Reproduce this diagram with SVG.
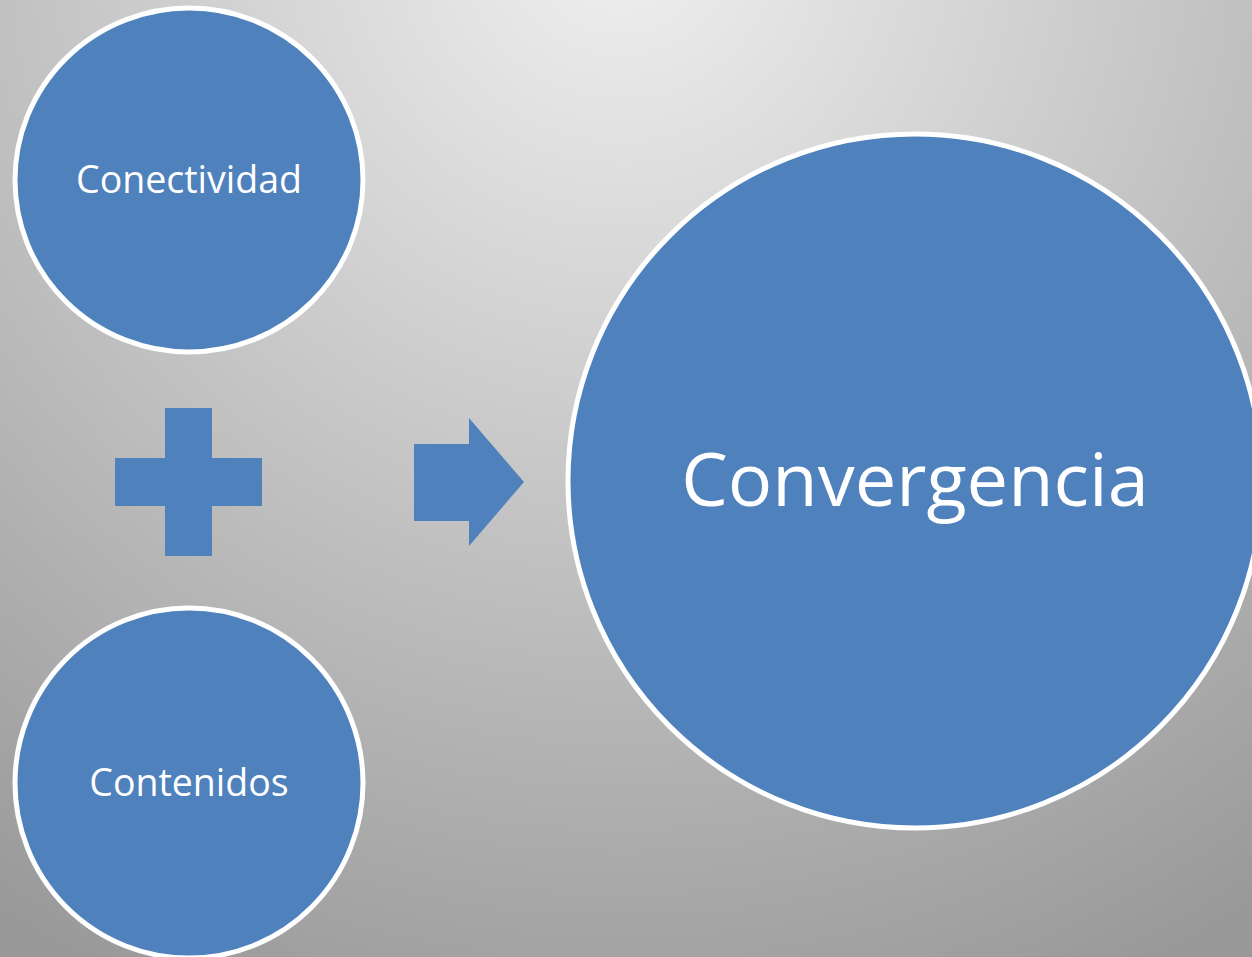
<svg xmlns="http://www.w3.org/2000/svg" width="1252" height="957" viewBox="0 0 1252 957">
<defs>
<radialGradient id="bg" gradientUnits="userSpaceOnUse" cx="620" cy="-60" r="1150">
<stop offset="0" stop-color="#f0f0f0"/>
<stop offset="1" stop-color="#999999"/>
</radialGradient>
<style>
.node{fill:#4f81bd;stroke:#ffffff;stroke-width:5}
.shape{fill:#4f81bd}
.lbl{font-family:"Open Sans","Noto Sans","Liberation Sans",sans-serif;fill:#ffffff;text-anchor:middle}
</style>
</defs>
<rect width="1252" height="957" fill="url(#bg)"/>
<g id="connectors">
<path class="shape" d="M165,408 H212 V458 H262 V506 H212 V556 H165 V506 H115 V458 H165 Z"/>
<path class="shape" d="M414,444 H469 V418 L524,482 L469,546 V521 H414 Z"/>
</g>
<g id="conectividad">
<ellipse class="node" cx="189" cy="180" rx="174" ry="172"/>
<text class="lbl" x="189" y="193" font-size="37.5">Conectividad</text>
</g>
<g id="contenidos">
<ellipse class="node" cx="189" cy="783" rx="174" ry="175"/>
<text class="lbl" x="189" y="796" font-size="37.5">Contenidos</text>
</g>
<g id="convergencia">
<ellipse class="node" cx="915" cy="481" rx="347" ry="347"/>
<text class="lbl" x="915" y="506" font-size="74">Convergencia</text>
</g>
</svg>
